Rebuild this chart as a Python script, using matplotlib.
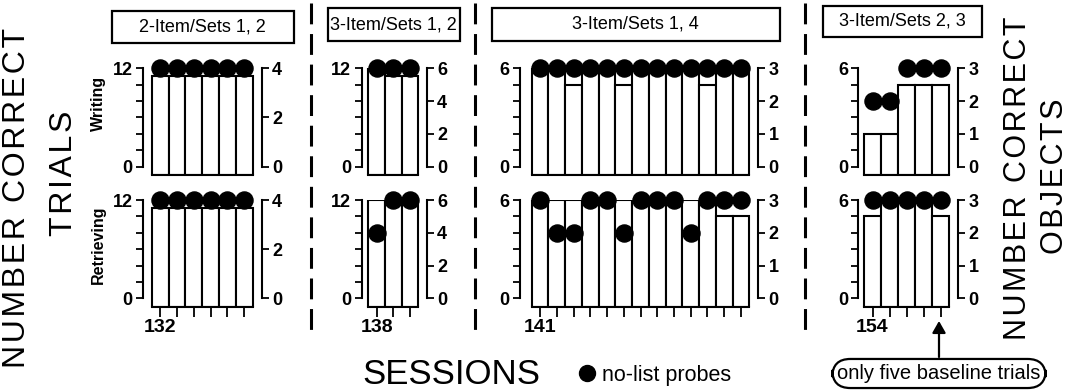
import matplotlib
matplotlib.use('Agg')
import matplotlib.pyplot as plt
from matplotlib.lines import Line2D
from matplotlib.patches import Rectangle, FancyArrowPatch

plt.rcParams.update({
    'font.family': ['Liberation Sans', 'DejaVu Sans'],
    'font.size': 12,
    'lines.scale_dashes': False,
})

# --- Data ---
titles = ['2-Item/Sets 1, 2', '3-Item/Sets 1, 2', '3-Item/Sets 1, 4', '3-Item/Sets 2, 3']
first_sessions = [132, 138, 141, 154]
trial_max = [12, 12, 6, 6]
object_max = [4, 6, 3, 3]
trial_step = [2, 2, 1, 1]
object_step = [2, 2, 1, 1]

# bars: number of correct baseline trials (left axis)
writing_trials = [
    [11, 11, 11, 11, 11, 11],
    [12, 11, 11],
    [6, 6, 5, 6, 6, 5, 6, 6, 6, 6, 5, 6, 6],
    [2, 2, 5, 5, 5],
]
retrieving_trials = [
    [11, 11, 11, 11, 11, 11],
    [12, 12, 12],
    [6, 6, 6, 6, 6, 6, 6, 6, 6, 6, 6, 5, 5],
    [5, 6, 6, 6, 5],
]
# dots: no-list probes, number of correct objects (right axis)
writing_probes = [
    [4, 4, 4, 4, 4, 4],
    [6, 6, 6],
    [3, 3, 3, 3, 3, 3, 3, 3, 3, 3, 3, 3, 3],
    [2, 2, 3, 3, 3],
]
retrieving_probes = [
    [4, 4, 4, 4, 4, 4],
    [4, 6, 6],
    [3, 2, 2, 3, 3, 2, 3, 3, 3, 2, 3, 3, 3],
    [3, 3, 3, 3, 3],
]
row_names = ['Writing', 'Retrieving']

# --- Layout (pixels in a 1084x392 canvas) ---
W, H = 1084, 392
def fx(px):
    return px / W
def fy(py):
    return 1 - py / H

def tracked(s):
    # the scanned labels are slightly letter-spaced
    return '\u200a'.join(s)

panels = [
    dict(L=143.0, B0=151.7, w=16.83, R=261.7, box=(111.7, 11.0, 294.0, 42.7)),
    dict(L=361.7, B0=368.3, w=16.67, R=426.7, box=(327.7, 8.3, 460.0, 40.7)),
    dict(L=520.0, B0=531.7, w=16.74, R=758.3, box=(491.7, 8.0, 780.0, 40.7)),
    dict(L=858.3, B0=864.0, w=17.06, R=958.3, box=(823.3, 6.0, 981.7, 37.0)),
]
row_top = [68.3, 200.0]
row_zero = [166.7, 298.3]
base_gap = 8.3
lw = 1.5

fig = plt.figure(figsize=(W / 100, H / 100), dpi=100)

for p, spec in enumerate(panels):
    n = len(writing_trials[p])
    T = trial_max[p]
    ratio = T / object_max[p]
    x = list(range(n))
    xl = -0.5 - (spec['B0'] - spec['L']) / spec['w']
    xr = xl + (spec['R'] - spec['L']) / spec['w']

    for r, (trials, probes) in enumerate([(writing_trials[p], writing_probes[p]),
                                          (retrieving_trials[p], retrieving_probes[p])]):
        top, zero = row_top[r], row_zero[r]
        bot = zero + base_gap
        ax = fig.add_axes([fx(spec['L']), fy(bot), (spec['R'] - spec['L']) / W, (bot - top) / H])
        ymin = -base_gap * T / (zero - top)
        ax.set_ylim(ymin, T)
        ax.set_xlim(xl, xr)
        ax.bar(x, [v - ymin for v in trials], bottom=ymin, width=1.0,
               color='white', edgecolor='black', linewidth=lw, zorder=2)

        for s in ['top', 'right']:
            ax.spines[s].set_visible(False)
        ax.spines['left'].set_bounds(0, T)
        ax.spines['left'].set_linewidth(lw)
        ax.spines['bottom'].set_bounds(-0.5, n - 0.5)
        ax.spines['bottom'].set_linewidth(lw)
        yt = list(range(0, T + 1, trial_step[p]))
        ax.set_yticks(yt, labels=[str(t) if t in (0, T) else '' for t in yt],
                      fontweight='bold')
        ax.tick_params(axis='y', direction='out', length=5, width=1.3, pad=2.5, labelsize=13)
        if r == 1:
            ax.set_xticks(x, labels=[str(first_sessions[p])] + [''] * (n - 1),
                          fontweight='bold')
            ax.tick_params(axis='x', direction='out', length=7, width=1.3, pad=2, labelsize=14)
        else:
            ax.set_xticks([])

        ax2 = ax.twinx()
        ax2.set_ylim(ymin / ratio, T / ratio)
        ax2.set_xlim(xl, xr)
        for s in ['top', 'left', 'bottom']:
            ax2.spines[s].set_visible(False)
        ax2.spines['right'].set_bounds(0, object_max[p])
        ax2.spines['right'].set_linewidth(lw)
        rt = list(range(0, object_max[p] + 1, object_step[p]))
        ax2.set_yticks(rt, labels=[str(t) for t in rt], fontweight='bold')
        ax2.tick_params(axis='y', direction='out', length=5, width=1.3, pad=2.5, labelsize=13)
        ax2.plot(x, probes, 'o', color='black', ms=12.3, clip_on=False, zorder=5)

    # title box
    x0, y0, x1, y1 = spec['box']
    fig.add_artist(Rectangle((fx(x0), fy(y1)), (x1 - x0) / W, (y1 - y0) / H,
                             transform=fig.transFigure, facecolor='white',
                             edgecolor='black', linewidth=1.6))
    fig.text(fx((x0 + x1) / 2), fy((y0 + y1) / 2), titles[p], ha='center', va='center',
             fontsize=13)

# dashed separators
for sx in [311, 475, 805]:
    fig.add_artist(Line2D([fx(sx), fx(sx)], [fy(3), fy(336)], transform=fig.transFigure,
                          color='black', linewidth=2.2, dashes=(15, 7)))

# row labels
fig.text(fx(98), fy(103), row_names[0], rotation=90, ha='center', va='center',
         fontsize=11.5, fontweight='bold')
fig.text(fx(98), fy(245), row_names[1], rotation=90, ha='center', va='center',
         fontsize=11.5, fontweight='bold')

# big axis titles (baseline-anchored, caps extend to the left)
big = dict(rotation=90, rotation_mode='anchor', ha='center', va='baseline')
fig.text(fx(25), fy(198), tracked('NUMBER CORRECT'), fontsize=23, **big)
fig.text(fx(72), fy(173), tracked('TRIALS'), fontsize=23, **big)
fig.text(fx(1026), fy(178), tracked('NUMBER CORRECT'), fontsize=22, **big)
fig.text(fx(1063), fy(176), tracked('OBJECTS'), fontsize=22, **big)
fig.text(fx(451), fy(375), 'SESSIONS', ha='center', va='center', fontsize=25)

# legend
probe_handle = Line2D([], [], marker='o', linestyle='', color='black', ms=11.5)
fig.legend(handles=[probe_handle], labels=['no-list probes'], loc='center left',
           bbox_to_anchor=(fx(578), fy(375)), frameon=False, fontsize=15.5,
           handlelength=0.8, handletextpad=0.3, borderpad=0, borderaxespad=0)

# annotation
fig.text(fx(939), fy(373.5), 'only five baseline trials', ha='center', va='center',
         fontsize=14.5,
         bbox=dict(boxstyle='round,pad=0.25,rounding_size=0.9', facecolor='white',
                   edgecolor='black', linewidth=1.6))
fig.add_artist(FancyArrowPatch(
    (fx(939), fy(357)), (fx(939), fy(321)), transform=fig.transFigure,
    arrowstyle='-|>,head_length=7,head_width=4', color='black', linewidth=1.6,
    shrinkA=0, shrinkB=0))

fig.savefig('out.png', dpi=100)
